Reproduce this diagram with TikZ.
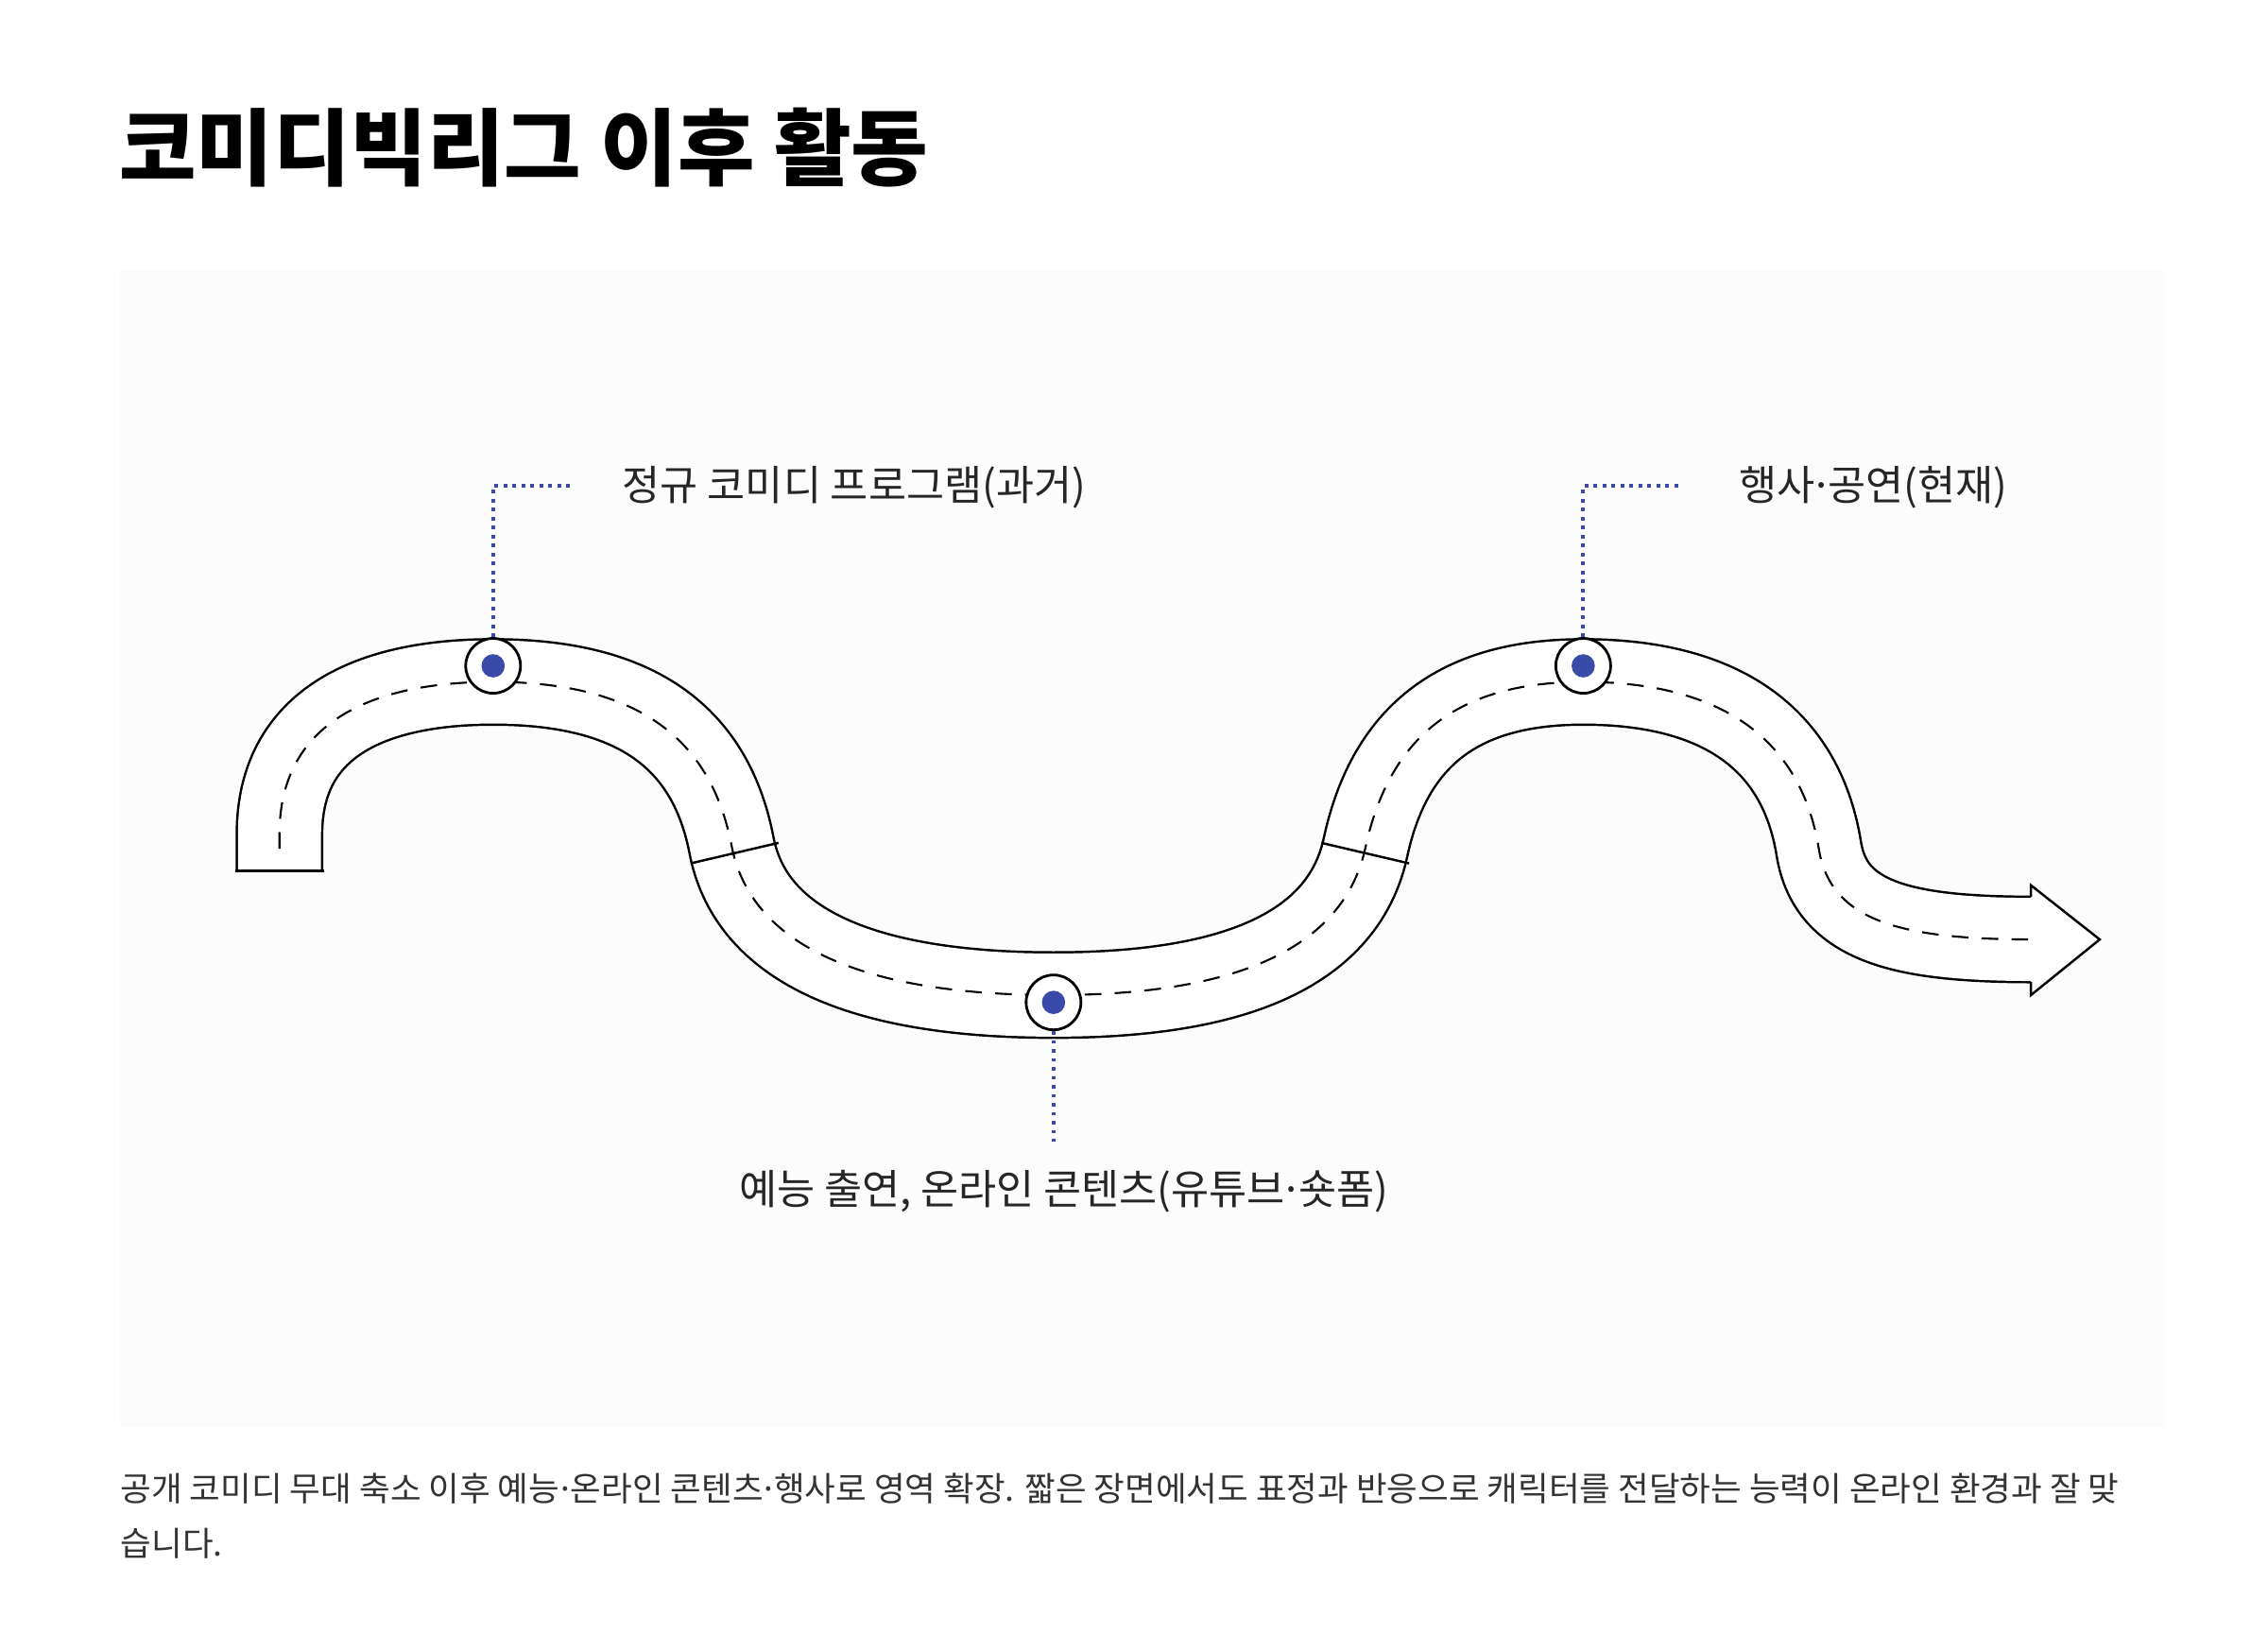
\documentclass[tikz,border=0pt]{standalone}
\usepackage{fontspec}
\setmainfont{Noto Sans CJK KR}
\newcommand{\mdt}{\kern-0.12em·\kern-0.12em}
\begin{document}
\begin{tikzpicture}[x=0.01548cm,y=-0.01548cm,
  road/.style={line cap=butt},
  leader/.style={draw=pinblue,line width=1.1pt,dash pattern=on 1.1pt off 1.6pt},
  pin/.style={circle,draw=black,fill=white,line width=0.8pt,minimum size=16.5pt,inner sep=0pt},
  dot/.style={circle,fill=pinblue,minimum size=7pt,inner sep=0pt},
  lbl/.style={font=\fontsize{12.4}{15}\selectfont,text=black!85,inner sep=0pt}]
\definecolor{pinblue}{HTML}{3A4AA8}
\useasboundingbox (0,0) rectangle (1550,1128);
\fill[white] (0,0) rectangle (1550,1128);
\fill[black!1.2] (82,185) rectangle (1480,975);
\node[anchor=west,inner sep=0pt,font=\fontsize{25.2}{28}\selectfont\bfseries] (title) at (81,101) {코미디빅리그 이후 활동};
\def\roadpath{(191,595) -- (191,570) .. controls (191,490) and (260,466) .. (337,466) .. controls (430,466) and (485,500) .. (500,578) .. controls (516,660) and (620,680) .. (720,680) .. controls (820,680) and (915,660) .. (933,580) .. controls (950,500) and (1000,466) .. (1082,466) .. controls (1170,466) and (1230,500) .. (1243,580) .. controls (1251,630) and (1300,642) .. (1390,642)}
\draw[road,line width=26.4pt,black] \roadpath;
\draw[road,line width=25.0pt,white] \roadpath;
\draw[line width=0.6pt,dash pattern=on 5pt off 4pt] (191,580) -- (191,570) .. controls (191,490) and (260,466) .. (337,466) .. controls (430,466) and (485,500) .. (500,578) .. controls (516,660) and (620,680) .. (720,680) .. controls (820,680) and (915,660) .. (933,580) .. controls (950,500) and (1000,466) .. (1082,466) .. controls (1170,466) and (1230,500) .. (1243,580) .. controls (1251,630) and (1300,642) .. (1390,642);
\draw[line width=0.7pt] (160.5,595) -- (221.5,595);
\draw[line width=0.7pt] (472,590) -- (532,576);
\draw[line width=0.7pt] (903,576) -- (963,590);
\draw[line width=0.7pt,fill=white,line join=miter] (1388,613) -- (1388,605) -- (1435,642) -- (1388,680) -- (1388,671);
\node[pin] (p1) at (337,455) {};
\node[dot] (d1) at (337,455) {};
\node[pin] (p2) at (720,685) {};
\node[dot] (d2) at (720,685) {};
\node[pin] (p3) at (1082,455) {};
\node[dot] (d3) at (1082,455) {};
\node[lbl,anchor=west] (l1) at (425,333) {정규 코미디 프로그램(과거)};
\node[lbl,anchor=west] (l3) at (1188,333) {행사\mdt 공연(현재)};
\node[lbl] (l2) at (727,814) {예능 출연, 온라인 콘텐츠(유튜브\mdt 숏폼)};
\coordinate (c1) at (337,332);
\coordinate (c3) at (1082,332);
\coordinate (c2) at (720,780);
\draw[leader] (p1.north) -- (c1) -- ([xshift=-15]l1.west |- c1);
\draw[leader] (p3.north) -- (c3) -- ([xshift=-17]l3.west |- c3);
\draw[leader] (p2.south) -- (c2);
\node[anchor=north west,align=left,inner sep=0pt,font=\fontsize{10.1}{16.6}\selectfont,text=black!80] (cap) at (82,1006) {공개 코미디 무대 축소 이후 예능\mdt 온라인 콘텐츠\mdt 행사로 영역 확장. 짧은 장면에서도 표정과 반응으로 캐릭터를 전달하는 능력이 온라인 환경과 잘 맞\\습니다.};
\end{tikzpicture}
\end{document}
